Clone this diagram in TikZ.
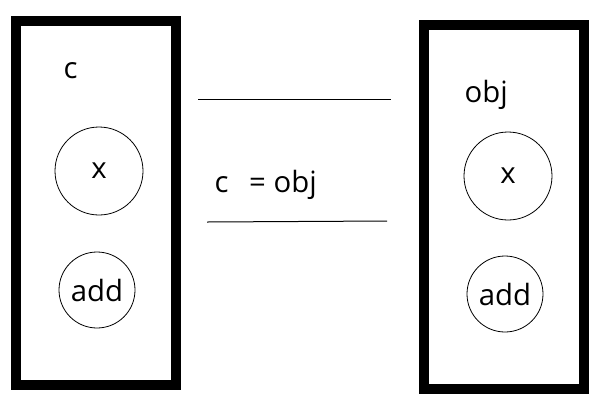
\documentclass[tikz,border=0pt]{standalone}
\usepackage{fontspec}
\setmainfont{Open Sans}
\usepackage{tikz}

\begin{document}
\begin{tikzpicture}[x=0.75pt,y=-0.75pt,
  every node/.style={font=\fontsize{22}{26}\selectfont},
  frame/.style={draw,line width=7.5pt,minimum width=120pt,minimum height=273pt,inner sep=0pt},
  member/.style={draw,circle,line width=0.6pt,inner sep=0pt}]
\useasboundingbox (0,0) rectangle (598,411);

\node[frame] (C) at (96,203) {};
\node[frame] (O) at (504,206.5) {};

\node[anchor=base west] (cname) at (59,78) {c};
\node[member,minimum size=66pt] (cx) at (99,171) {x};
\node[member,minimum size=57pt] (cadd) at (97,290) {add};

\node[anchor=base west] (oname) at (460,102) {obj};
\node[member,minimum size=66pt] (ox) at (508,176) {x};
\node[member,minimum size=57pt] (oadd) at (505,294) {add};

\node[anchor=base west] (assign) at (210,192) {c\hspace{0.7em}= obj};

\draw[line width=0.75pt] (198,99) -- (391,99);
\draw[line width=0.75pt] (207,222) -- (387,221);
\end{tikzpicture}
\end{document}
